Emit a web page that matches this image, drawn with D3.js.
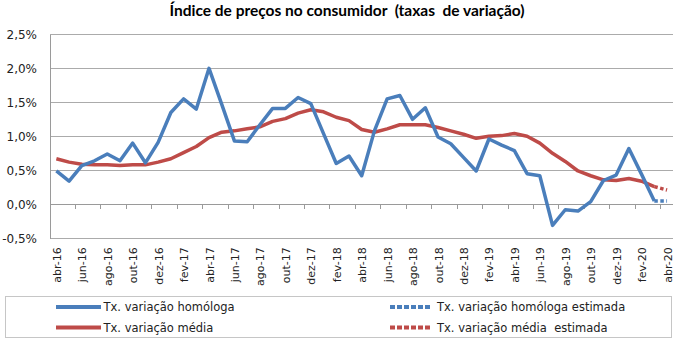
<!DOCTYPE html>
<html>
<head>
<meta charset="utf-8">
<script src="https://cdn.jsdelivr.net/npm/d3@7"></script>
<style>
  html, body { margin: 0; padding: 0; background: #fff; }
  svg { display: block; }
  text { white-space: pre; }
</style>
</head>
<body>
<svg id="chart" width="680" height="340"></svg>
<script>
// ---------- DATA ----------
const title = "Índice de preços no consumidor  (taxas  de variação)";

const months = [
  "abr-16","mai-16","jun-16","jul-16","ago-16","set-16","out-16","nov-16","dez-16",
  "jan-17","fev-17","mar-17","abr-17","mai-17","jun-17","jul-17","ago-17","set-17","out-17","nov-17","dez-17",
  "jan-18","fev-18","mar-18","abr-18","mai-18","jun-18","jul-18","ago-18","set-18","out-18","nov-18","dez-18",
  "jan-19","fev-19","mar-19","abr-19","mai-19","jun-19","jul-19","ago-19","set-19","out-19","nov-19","dez-19",
  "jan-20","fev-20","mar-20","abr-20"
];

// Tx. variação homóloga (%)
const homologa = [
  0.49,0.34,0.57,0.64,0.74,0.64,0.90,0.61,0.91,
  1.35,1.55,1.40,2.00,1.47,0.93,0.92,1.17,1.41,1.41,1.57,1.48,
  1.04,0.60,0.71,0.42,1.08,1.55,1.60,1.25,1.42,0.99,0.89,0.69,
  0.49,0.96,0.87,0.79,0.45,0.42,-0.31,-0.08,-0.10,0.04,0.35,0.43,
  0.82,0.44,0.05,null
];

// Tx. variação média (%)
const media = [
  0.67,0.62,0.59,0.58,0.58,0.57,0.58,0.58,0.62,
  0.67,0.76,0.85,0.98,1.06,1.08,1.11,1.14,1.22,1.26,1.34,1.39,
  1.36,1.28,1.23,1.10,1.06,1.11,1.17,1.17,1.17,1.13,1.08,1.03,
  0.97,1.00,1.01,1.04,1.00,0.90,0.75,0.63,0.49,0.42,0.36,0.35,
  0.38,0.34,0.26,null
];

// Estimated values (mar-20 -> abr-20)
const homologaEst = months.map((m, i) => i === 47 ? 0.05 : i === 48 ? 0.05 : null);
const mediaEst    = months.map((m, i) => i === 47 ? 0.26 : i === 48 ? 0.21 : null);

const yTicks = [-0.5, 0, 0.5, 1.0, 1.5, 2.0, 2.5];

const legendItems = [
  { label: "Tx. variação homóloga",          color: "#4A7EBB", dashed: false },
  { label: "Tx. variação média",             color: "#BE4B48", dashed: false },
  { label: "Tx. variação homóloga estimada", color: "#4A7EBB", dashed: true },
  { label: "Tx. variação média  estimada",   color: "#BE4B48", dashed: true }
];

// ---------- LAYOUT ----------
const BLUE = "#4A7EBB", RED = "#BE4B48";
const svg = d3.select("#chart");
const plot = { left: 50, right: 673.4, top: 34.3, bottom: 238.3 };

const x = d3.scaleBand().domain(months).range([plot.left, plot.right]).padding(0);
const y = d3.scaleLinear().domain([-0.5, 2.5]).range([plot.bottom, plot.top]);
const cx = d => x(d) + x.bandwidth() / 2;

// Title
svg.append("text")
  .attr("x", 347).attr("y", 16)
  .attr("text-anchor", "middle")
  .attr("font-family", "Lato, 'Open Sans', sans-serif")
  .attr("font-weight", "bold")
  .attr("font-size", 15.5)
  .attr("fill", "#000")
  .text(title);

// Gridlines
svg.append("g").selectAll("line").data(yTicks).join("line")
  .attr("x1", plot.left).attr("x2", plot.right)
  .attr("y1", d => y(d)).attr("y2", d => y(d))
  .attr("stroke", "#ababab").attr("stroke-width", 1)
  .attr("shape-rendering", "crispEdges");

// Y axis
const yAxis = d3.axisLeft(y).tickValues(yTicks).tickSize(0).tickPadding(13)
  .tickFormat(d => d3.format(".1f")(d).replace(".", ",").replace("−", "-") + "%");
const gy = svg.append("g").attr("transform", `translate(${plot.left},0)`).call(yAxis);
gy.select(".domain").attr("stroke", "#9a9a9a").attr("shape-rendering", "crispEdges");
gy.selectAll("text")
  .attr("font-family", "'DejaVu Sans', sans-serif")
  .attr("font-size", 12)
  .attr("fill", "#222");

// Category axis line at 0% with tick marks every 2 months
const tickMonths = months.filter((m, i) => i > 0 && i % 2 === 0);
const gx0 = svg.append("g");
gx0.append("line")
  .attr("x1", plot.left).attr("x2", plot.right)
  .attr("y1", y(0)).attr("y2", y(0))
  .attr("stroke", "#9a9a9a").attr("shape-rendering", "crispEdges");
gx0.selectAll("line.tick").data(tickMonths).join("line")
  .attr("class", "tick")
  .attr("x1", d => x(d)).attr("x2", d => x(d))
  .attr("y1", y(0)).attr("y2", y(0) + 5)
  .attr("stroke", "#9a9a9a").attr("shape-rendering", "crispEdges");

// X labels (every 2 months), rotated
const labelMonths = months.filter((m, i) => i % 2 === 0);
const xAxis = d3.axisBottom(x).tickValues(labelMonths).tickSize(0).tickPadding(0);
const gx = svg.append("g").attr("transform", `translate(0,${plot.bottom})`).call(xAxis);
gx.select(".domain").remove();
gx.selectAll("text")
  .attr("font-family", "'DejaVu Sans', sans-serif")
  .attr("font-size", 11)
  .attr("fill", "#222")
  .attr("text-anchor", "end")
  .attr("dy", null)
  .attr("dominant-baseline", "central")
  .attr("transform", "translate(1,9) rotate(-90)")
  .attr("y", 0).attr("x", 0);

// Lines
const lineGen = d3.line()
  .defined(d => d.v !== null)
  .x(d => cx(d.m))
  .y(d => y(d.v));

function series(vals) { return months.map((m, i) => ({ m, v: vals[i] })); }

svg.append("path").datum(series(media))
  .attr("d", lineGen).attr("fill", "none")
  .attr("stroke", RED).attr("stroke-width", 3.5).attr("stroke-linejoin", "round");
svg.append("path").datum(series(mediaEst))
  .attr("d", lineGen).attr("fill", "none")
  .attr("stroke", RED).attr("stroke-width", 3.5).attr("stroke-dasharray", "3.5,2.5");

svg.append("path").datum(series(homologa))
  .attr("d", lineGen).attr("fill", "none")
  .attr("stroke", BLUE).attr("stroke-width", 3.5).attr("stroke-linejoin", "round");
svg.append("path").datum(series(homologaEst))
  .attr("d", lineGen).attr("fill", "none")
  .attr("stroke", BLUE).attr("stroke-width", 3.5).attr("stroke-dasharray", "3.5,2.5");

// Legend
const lg = svg.append("g");
lg.append("rect")
  .attr("x", 5.5).attr("y", 296.5).attr("width", 666).attr("height", 41)
  .attr("fill", "#fff").attr("stroke", "#c6c6c6");

const legPos = [
  { x1: 56, x2: 101, ty: 307 },
  { x1: 56, x2: 101, ty: 327.5 },
  { x1: 390, x2: 431, ty: 307 },
  { x1: 390, x2: 431, ty: 327.5 }
];
legendItems.forEach((it, i) => {
  const p = legPos[i];
  lg.append("line")
    .attr("x1", p.x1).attr("x2", p.x2).attr("y1", p.ty).attr("y2", p.ty)
    .attr("stroke", it.color).attr("stroke-width", 4)
    .attr("stroke-dasharray", it.dashed ? "5,2" : null);
  lg.append("text")
    .attr("x", p.x2 + (it.dashed ? 6 : 2.5)).attr("y", p.ty)
    .attr("dominant-baseline", "central")
    .attr("font-family", "'DejaVu Sans', sans-serif")
    .attr("font-size", 11.5)
    .attr("fill", "#222")
    .text(it.label);
});
</script>
</body>
</html>
